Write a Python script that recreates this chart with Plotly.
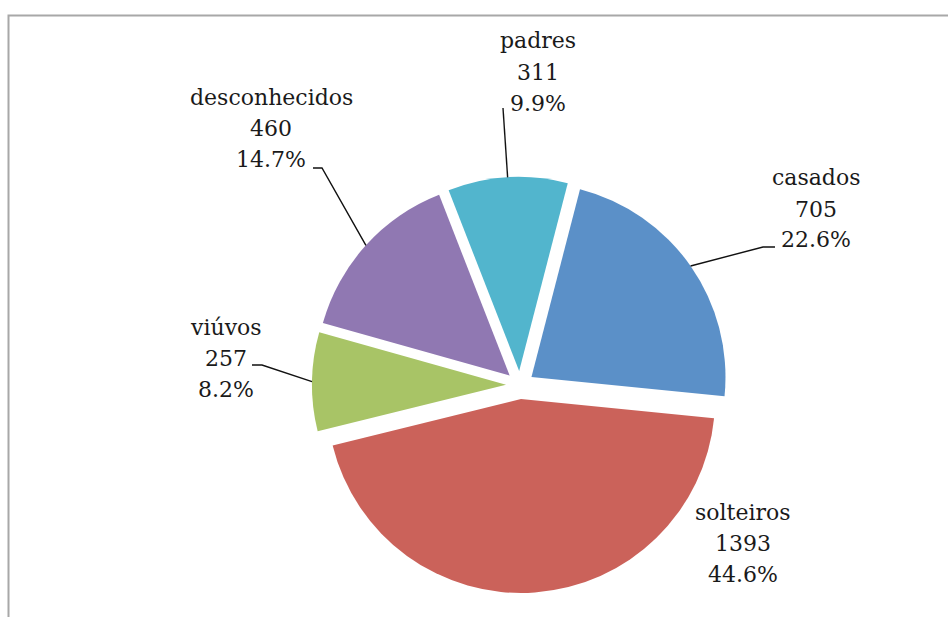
import math
import plotly.graph_objects as go

# ---- data ----
categories = ["casados", "solteiros", "viúvos", "desconhecidos", "padres"]
counts = [705, 1393, 257, 460, 311]
colors = ["#5B90C8", "#CB625A", "#A8C466", "#9078B2", "#52B5CD"]

W, H = 948, 617
CX, CY = 520, 385          # pie centre (px)
HALF = 208                 # half size of the pie domain (px)
PULL = 0.072
ROTATION = 14.5
FONT = "DejaVu Serif"
FS = 22
LINE_GAP = 31

# label block centres (px) and leader-line elbow points (px) - layout only
label_pos = {
    "casados": (816, 209),
    "solteiros": (743, 543),
    "viúvos": (226, 358),
    "desconhecidos": (271, 128),
    "padres": (538, 72),
}
leader = {
    "casados": [(763, 247), (775, 247)],
    "viúvos": [(262, 365), (252, 365)],
    "desconhecidos": [(322, 168), (313, 168)],
    "padres": [(503, 108)],
}

def px(x):
    return x / W

def py(y):
    return 1 - y / H

fig = go.Figure()
fig.add_trace(go.Pie(
    labels=categories,
    values=counts,
    sort=False,
    direction="clockwise",
    rotation=ROTATION,
    pull=[PULL] * len(counts),
    marker=dict(colors=colors, line=dict(width=0)),
    textinfo="none",
    hoverinfo="label+value+percent",
    domain=dict(x=[px(CX - HALF), px(CX + HALF)], y=[py(CY + HALF), py(CY - HALF)]),
    showlegend=False,
))

total = sum(counts)
annotations = []
shapes = []
start = ROTATION
for cat, v in zip(categories, counts):
    frac = v / total
    span = 360 * frac
    mid = math.radians(start + span / 2)
    start += span
    pct = f"{frac * 100:.1f}%"
    lx, ly = label_pos[cat]
    for k, line in enumerate([cat, str(v), pct]):
        annotations.append(dict(
            x=px(lx), y=py(ly + (k - 1) * LINE_GAP), xref="paper", yref="paper",
            text=line, showarrow=False, xanchor="center", yanchor="middle",
            font=dict(family=FONT, size=FS, color="#1a1a1a"),
        ))
    if cat in leader:
        ex = CX + HALF * math.sin(mid)
        ey = CY - HALF * math.cos(mid)
        pts = [(ex, ey)] + leader[cat]
        path = "M " + " L ".join(f"{px(a):.5f},{py(b):.5f}" for a, b in pts)
        shapes.append(dict(type="path", path=path, xref="paper", yref="paper",
                           line=dict(color="#111111", width=1.4)))

# outer frame
shapes.append(dict(type="rect", xref="paper", yref="paper",
                   x0=px(8.5), x1=px(960), y0=py(640), y1=py(15.5),
                   line=dict(color="#A8A8A8", width=2)))

fig.update_layout(
    width=W, height=H,
    margin=dict(l=0, r=0, t=0, b=0),
    paper_bgcolor="white", plot_bgcolor="white",
    annotations=annotations,
    shapes=shapes,
)

fig.write_html("out.html")
